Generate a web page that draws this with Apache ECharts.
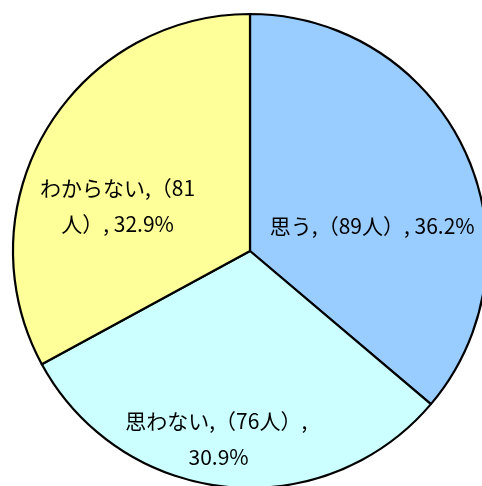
<!DOCTYPE html>
<html>
<head>
<meta charset="utf-8">
<script src="https://cdn.jsdelivr.net/npm/echarts@6/dist/echarts.min.js"></script>
<style>
  html, body { margin: 0; padding: 0; background: #fff; }
  #chart { width: 482px; height: 486px; }
</style>
</head>
<body>
<div id="chart"></div>
<script>
const categories = ["思う", "思わない", "わからない"];
const counts = [89, 76, 81];
const colors = ["#99CCFF", "#CCFFFF", "#FFFF99"];

// where each label wraps, and how far it sits from the default "inside" spot
const labelWidths = [240, 210, 162];
const labelShift = [[12, 26], [-19, 67], [-28, 17]];

const chart = echarts.init(document.getElementById("chart"));

const seriesData = categories.map((name, i) => ({
  name: name,
  value: counts[i],
  itemStyle: { color: colors[i] },
  label: { width: labelWidths[i] },
}));

chart.setOption({
  animation: false,
  series: [
    {
      type: "pie",
      center: [250, 251],
      radius: 237,
      startAngle: 90,
      clockwise: true,
      data: seriesData,
      emphasis: { disabled: true },
      itemStyle: {
        borderColor: "#000",
        borderWidth: 2.2,
      },
      label: {
        show: true,
        position: "inside",
        color: "#000",
        fontFamily: "Noto Sans CJK JP",
        fontSize: 21,
        lineHeight: 36,
        overflow: "break",
        formatter: (p) => p.name + ",（" + p.value + "人）, " + p.percent.toFixed(1) + "%",
      },
      labelLayout: (params) => ({
        dx: labelShift[params.dataIndex][0],
        dy: labelShift[params.dataIndex][1],
      }),
      labelLine: { show: false },
    },
  ],
});
</script>
</body>
</html>
